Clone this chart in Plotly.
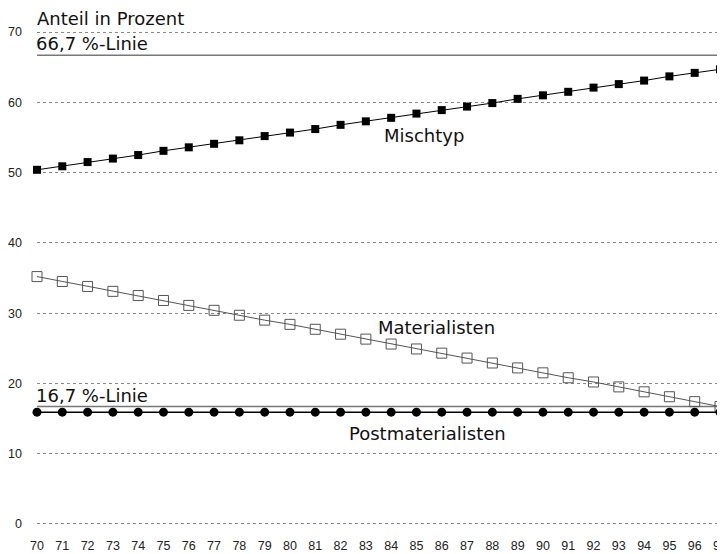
import plotly.graph_objects as go

years = list(range(70, 98))
year_labels = [str(y) for y in years]

mischtyp = [50.4, 50.9, 51.5, 52.0, 52.5, 53.1, 53.6, 54.1, 54.6, 55.2, 55.7, 56.2, 56.8, 57.3,
            57.8, 58.4, 58.9, 59.4, 59.9, 60.5, 61.0, 61.5, 62.1, 62.6, 63.1, 63.7, 64.2, 64.7]
materialisten = [35.2, 34.5, 33.8, 33.1, 32.5, 31.8, 31.1, 30.4, 29.7, 29.0, 28.4, 27.7, 27.0, 26.3,
                 25.6, 24.9, 24.3, 23.6, 22.9, 22.2, 21.5, 20.8, 20.2, 19.5, 18.8, 18.1, 17.4, 16.7]
postmaterialisten = [15.9] * 28

reference_lines = [66.7, 16.7]
reference_labels = ["66,7 %-Linie", "16,7 %-Linie"]
y_ticks = [0, 10, 20, 30, 40, 50, 60, 70]

text_font = "DejaVu Sans"
tick_font = dict(family="Liberation Sans, Arial", size=12.5, color="#222")

fig = go.Figure()

for yv in reference_lines:
    fig.add_shape(type="line", xref="paper", x0=0, x1=1, yref="y", y0=yv, y1=yv,
                  line=dict(color="#777", width=1.5), layer="below")

fig.add_trace(go.Scatter(x=years, y=mischtyp, mode="lines+markers", name="Mischtyp",
                         line=dict(color="black", width=1),
                         marker=dict(symbol="square", size=8, color="black"),
                         cliponaxis=False))
fig.add_trace(go.Scatter(x=years, y=materialisten, mode="lines+markers", name="Materialisten",
                         line=dict(color="#555", width=1),
                         marker=dict(symbol="square-open", size=10, color="#555", line=dict(width=1)),
                         cliponaxis=False))
fig.add_trace(go.Scatter(x=years, y=postmaterialisten, mode="lines+markers", name="Postmaterialisten",
                         line=dict(color="black", width=1.5),
                         marker=dict(symbol="circle", size=9, color="black"),
                         cliponaxis=False))

ann = [
    dict(text="Anteil in Prozent", x=0, xref="paper", xanchor="left", y=1.024, yref="paper",
         yanchor="middle", xshift=-1),
    dict(text=reference_labels[0], x=0, xref="paper", xanchor="left", y=68.4, yref="y",
         yanchor="middle", xshift=-2),
    dict(text=reference_labels[1], x=0, xref="paper", xanchor="left", y=18.3, yref="y",
         yanchor="middle", xshift=-2),
    dict(text="Mischtyp", x=85.3, y=55.3, xanchor="center", yanchor="middle"),
    dict(text="Materialisten", x=85.8, y=27.9, xanchor="center", yanchor="middle"),
    dict(text="Postmaterialisten", x=85.45, y=12.8, xanchor="center", yanchor="middle"),
]
for a in ann:
    a.update(showarrow=False, borderpad=0, font=dict(family=text_font, size=18, color="#111"))
    fig.add_annotation(**a)

fig.update_xaxes(range=[70, 97], tickmode="array", tickvals=years, ticktext=year_labels,
                 showgrid=False, zeroline=False, showline=False, tickfont=tick_font,
                 ticklabelstandoff=10, automargin=False, ticklabeloverflow="allow")
fig.update_yaxes(range=[-0.3, 70.3], tickmode="array", tickvals=y_ticks, showgrid=True,
                 gridcolor="#888", griddash="dot", gridwidth=1, zeroline=False, showline=False,
                 tickfont=tick_font, ticklabelstandoff=14, automargin=False)

# the page body adds an 8px offset; size the figure so the plot area lands where the reference has it
fig.update_layout(width=717, height=546, margin=dict(l=29, r=5, t=22, b=28),
                  plot_bgcolor="white", paper_bgcolor="white", showlegend=False)

fig.write_html("out.html")
